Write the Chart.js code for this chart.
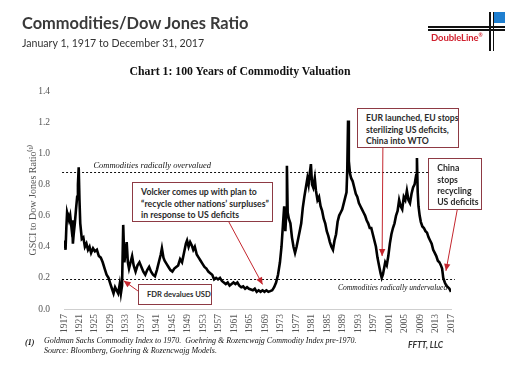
<!DOCTYPE html>
<html><head><meta charset="utf-8">
<script src="https://cdn.jsdelivr.net/npm/chart.js@4/dist/chart.umd.min.js"></script>
<style>
html,body{margin:0;padding:0;background:#fff;width:517px;height:368px;overflow:hidden;}
#wrap{position:relative;width:517px;height:368px;}
#c{position:absolute;left:0;top:0;width:517px;height:368px;}
.t{position:absolute;white-space:nowrap;}
#h1{left:22px;top:13px;font:bold 16.4px Lato;color:#3a3a3a;}
#h2{left:22px;top:37px;font:10.6px Lato;color:#333;}
#ct{left:0;width:480px;text-align:center;top:64px;font:bold 11.8px "Liberation Serif";color:#111;}
.lg{position:absolute;background:#111;}
#lgsq{position:absolute;left:494px;top:12px;width:11px;height:11px;background:#1f7fd0;}
#lgtx{left:431px;top:32px;font:bold 9.5px Lato;color:#d0202e;letter-spacing:-0.1px;}
.fn{font:italic 8px "Liberation Serif";color:#111;}
#ffft{left:408px;top:340px;font:bold italic 8.5px Lato;color:#333;}
.box{position:absolute;background:#fff;border:1.5px solid #8e3a44;box-sizing:border-box;font:bold 8.7px Lato;color:#2a2a2a;line-height:11.3px;white-space:nowrap;overflow:hidden;}
.dl{position:absolute;font:italic 7.8px "Liberation Serif";color:#111;white-space:nowrap;}
</style></head>
<body><div id="wrap">
<canvas id="c" width="517" height="368"></canvas>
<div class="t" id="h1">Commodities/Dow Jones Ratio</div>
<div class="t" id="h2">January 1, 1917 to December 31, 2017</div>
<div class="t" id="ct">Chart 1: 100 Years of Commodity Valuation</div>
<div class="lg" style="left:428px;top:26px;width:77px;height:1.5px"></div>
<div class="lg" style="left:428px;top:29px;width:77px;height:1.5px"></div>
<div class="lg" style="left:489px;top:12px;width:1.5px;height:39px"></div>
<div class="lg" style="left:492.5px;top:12px;width:1.5px;height:39px"></div>
<div id="lgsq"></div>
<div class="t" id="lgtx">DoubleLine<sup style="font-size:5px">®</sup></div>
<div class="t fn" style="left:25px;top:338px;font-weight:bold">(1)</div>
<div class="t fn" style="left:44px;top:336px">Goldman Sachs Commodity Index to 1970.&nbsp; Goehring &amp; Rozencwajg Commodity Index pre-1970.</div>
<div class="t fn" style="left:44px;top:346px">Source: Bloomberg, Goehring &amp; Rozencwajg Models.</div>
<div class="t" id="ffft">FFTT, LLC</div>
</div>
<script>
// ---- data ----
const years = [1917.0,1917.2,1917.4,1917.6,1917.8,1918.0,1918.3,1918.6,1918.9,1919.1,1919.3,1919.5,1919.8,1920.1,1920.4,1920.6,1920.8,1921.0,1921.2,1921.6,1922.0,1922.4,1922.8,1923.2,1923.6,1924.0,1924.5,1925.0,1925.5,1926.0,1926.5,1927.0,1927.5,1928.0,1928.5,1929.0,1929.4,1929.8,1930.2,1930.6,1931.0,1931.4,1931.7,1932.0,1932.3,1932.6,1932.9,1933.2,1933.5,1933.8,1934.2,1934.6,1935.0,1935.5,1936.0,1936.5,1937.0,1937.5,1938.0,1938.5,1939.0,1939.5,1940.0,1940.5,1941.0,1941.5,1942.0,1942.3,1942.7,1943.0,1943.5,1944.0,1944.5,1945.0,1945.5,1946.0,1946.5,1947.0,1947.5,1948.0,1948.5,1948.8,1949.2,1949.6,1950.0,1950.4,1950.8,1951.3,1951.8,1952.3,1952.8,1953.3,1953.8,1954.3,1954.8,1955.3,1955.8,1956.3,1956.8,1957.3,1957.8,1958.3,1958.8,1959.3,1959.8,1960.3,1960.8,1961.3,1961.8,1962.3,1962.8,1963.3,1963.8,1964.3,1964.8,1965.3,1965.8,1966.3,1966.8,1967.3,1967.8,1968.3,1968.8,1969.3,1969.8,1970.3,1970.8,1971.3,1971.8,1972.3,1972.8,1973.2,1973.6,1973.9,1974.2,1974.4,1974.6,1974.8,1975.1,1975.5,1975.9,1976.3,1976.7,1977.1,1977.5,1977.9,1978.3,1978.7,1979.1,1979.5,1979.9,1980.2,1980.5,1980.8,1981.1,1981.4,1981.8,1982.1,1982.5,1982.9,1983.3,1983.7,1984.1,1984.5,1984.9,1985.3,1985.7,1986.1,1986.5,1986.9,1987.3,1987.7,1988.1,1988.5,1988.9,1989.3,1989.7,1990.0,1990.2,1990.4,1990.6,1990.9,1991.2,1991.6,1992.0,1992.4,1992.8,1993.2,1993.6,1994.0,1994.4,1994.8,1995.2,1995.6,1996.0,1996.4,1996.8,1997.2,1997.6,1998.0,1998.4,1998.8,1999.1,1999.4,1999.7,2000.0,2000.4,2000.8,2001.2,2001.6,2002.0,2002.4,2002.8,2003.2,2003.6,2004.0,2004.4,2004.8,2005.2,2005.6,2006.0,2006.4,2006.8,2007.2,2007.6,2008.0,2008.2,2008.4,2008.6,2008.9,2009.2,2009.6,2010.0,2010.4,2010.8,2011.2,2011.6,2012.0,2012.4,2012.8,2013.2,2013.6,2014.0,2014.4,2014.7,2015.0,2015.4,2015.8,2016.2,2016.6,2017.0];
const ratio = [0.40,0.44,0.38,0.52,0.62,0.60,0.57,0.60,0.53,0.57,0.42,0.48,0.55,0.64,0.72,0.80,0.91,0.70,0.55,0.45,0.46,0.40,0.42,0.38,0.40,0.36,0.39,0.37,0.38,0.34,0.33,0.30,0.26,0.22,0.20,0.16,0.13,0.10,0.14,0.12,0.10,0.16,0.10,0.15,0.54,0.30,0.36,0.43,0.30,0.26,0.30,0.34,0.28,0.24,0.28,0.30,0.27,0.24,0.22,0.25,0.27,0.24,0.22,0.21,0.25,0.30,0.35,0.39,0.33,0.31,0.29,0.27,0.25,0.24,0.26,0.27,0.28,0.32,0.30,0.36,0.42,0.44,0.40,0.43,0.41,0.38,0.40,0.35,0.33,0.31,0.29,0.27,0.26,0.24,0.23,0.22,0.19,0.20,0.19,0.20,0.18,0.17,0.16,0.17,0.15,0.16,0.17,0.16,0.17,0.15,0.14,0.145,0.13,0.14,0.13,0.125,0.12,0.13,0.11,0.12,0.11,0.12,0.11,0.12,0.11,0.115,0.12,0.14,0.17,0.22,0.30,0.40,0.55,0.66,0.50,0.60,0.92,0.62,0.58,0.55,0.46,0.40,0.36,0.40,0.45,0.50,0.55,0.65,0.72,0.78,0.84,0.80,0.87,0.93,0.80,0.78,0.84,0.76,0.70,0.72,0.66,0.63,0.58,0.55,0.50,0.47,0.43,0.40,0.38,0.44,0.48,0.56,0.60,0.62,0.64,0.68,0.72,0.75,0.90,1.21,0.95,0.87,0.84,0.82,0.78,0.74,0.72,0.68,0.66,0.64,0.62,0.60,0.57,0.55,0.52,0.52,0.48,0.44,0.40,0.33,0.28,0.23,0.20,0.22,0.26,0.30,0.28,0.34,0.42,0.48,0.52,0.55,0.60,0.63,0.70,0.66,0.64,0.72,0.70,0.76,0.70,0.68,0.74,0.78,0.80,0.86,0.97,0.75,0.66,0.60,0.56,0.53,0.52,0.50,0.49,0.46,0.44,0.42,0.38,0.36,0.34,0.31,0.30,0.28,0.26,0.20,0.17,0.15,0.14,0.13,0.11];
const xTickLabels = ['1917','1921','1925','1929','1933','1937','1941','1945','1949','1953','1957','1961','1965','1969','1973','1977','1981','1985','1989','1993','1997','2001','2005','2009','2013','2017'];
const yTickValues = [0.0,0.2,0.4,0.6,0.8,1.0,1.2,1.4];
const overvaluedLevel = 0.88;
const undervaluedLevel = 0.19;

// annotation boxes (data coordinates) and arrows
const notes = [
  {id:'volcker', lines:['Volcker comes up with plan to','\u201Crecycle other nations\u2019 surpluses\u201D','in response to US deficits'], x0:1934.6, x1:1971.0, y0:0.559, y1:0.816, pl:8, pt:3.5, fs:8.7,
   arrow:[1959.6,0.559,1968.3,0.158]},
  {id:'fdr', lines:['FDR devalues USD'], x0:1936.1, x1:1955.2, y0:0.026, y1:0.161, pl:8, pt:4.5, fs:7.6,
   arrow:[1936.1,0.116,1932.4,0.182]},
  {id:'eur', lines:['EUR launched, EU stops','sterilizing US deficits,','China into WTO'], x0:1992.7, x1:2019.1, y0:1.034, y1:1.291, pl:8, pt:3.5, fs:8.7,
   arrow:[1999.4,1.034,1999.2,0.34]},
  {id:'china', lines:['China','stops','recycling','US deficits'], x0:2011.1, x1:2025.0, y0:0.636, y1:0.970, pl:8, pt:3.5, fs:8.7,
   arrow:[2018.6,0.636,2015.7,0.245]}
];
const dashLabels = [
  {text:'Commodities radically overvalued', x:1924.6, y:overvaluedLevel, above:true, size:8.5},
  {text:'Commodities radically undervalued', x:1987.8, y:undervaluedLevel, above:false, size:7.6}
];

const wrap = document.getElementById('wrap');
const noteEls = notes.map(n=>{
  const d=document.createElement('div'); d.className='box';
  d.style.padding = n.pt+'px 0 0 '+n.pl+'px';
  d.style.fontSize = n.fs+'px';
  d.innerHTML = n.lines.join('<br>');
  wrap.appendChild(d); return d;
});
const dashEls = dashLabels.map(l=>{
  const d=document.createElement('div'); d.className='dl'; d.textContent=l.text; d.style.fontSize=l.size+'px';
  wrap.appendChild(d); return d;
});

function arrowHead(ctx,x0,y0,x1,y1){
  const a=Math.atan2(y1-y0,x1-x0), L=7, W=3.2;
  ctx.beginPath();
  ctx.moveTo(x1,y1);
  ctx.lineTo(x1-L*Math.cos(a)+W*Math.sin(a), y1-L*Math.sin(a)-W*Math.cos(a));
  ctx.lineTo(x1-L*Math.cos(a)-W*Math.sin(a), y1-L*Math.sin(a)+W*Math.cos(a));
  ctx.closePath(); ctx.fill();
}

const annot = {
  id:'annot',
  beforeDatasetsDraw(chart){
    const {ctx, scales:{x,y}} = chart;
    ctx.save();
    ctx.strokeStyle='#111'; ctx.lineWidth=1; ctx.setLineDash([2,2]);
    [overvaluedLevel, undervaluedLevel].forEach(v=>{
      const py=Math.round(y.getPixelForValue(v))+0.5;
      ctx.beginPath(); ctx.moveTo(x.getPixelForValue(1916.5),py); ctx.lineTo(x.getPixelForValue(2018),py); ctx.stroke();
    });
    ctx.restore();
  },
  afterDraw(chart){
    const {ctx, scales:{x,y}} = chart;
    ctx.save();
    ctx.strokeStyle='#c4262e'; ctx.fillStyle='#c4262e'; ctx.lineWidth=1;
    notes.forEach((n,i)=>{
      const L=x.getPixelForValue(n.x0), R=x.getPixelForValue(n.x1), T=y.getPixelForValue(n.y1), B=y.getPixelForValue(n.y0);
      const e=noteEls[i];
      e.style.left=L+'px'; e.style.top=T+'px'; e.style.width=(R-L)+'px'; e.style.height=(B-T)+'px';
      const a=n.arrow;
      const ax0=x.getPixelForValue(a[0]), ay0=y.getPixelForValue(a[1]), ax1=x.getPixelForValue(a[2]), ay1=y.getPixelForValue(a[3]);
      ctx.beginPath(); ctx.moveTo(ax0,ay0); ctx.lineTo(ax1,ay1); ctx.stroke();
      arrowHead(ctx,ax0,ay0,ax1,ay1);
    });
    ctx.restore();
    dashLabels.forEach((l,i)=>{
      const e=dashEls[i], py=y.getPixelForValue(l.y);
      e.style.left=x.getPixelForValue(l.x)+'px';
      e.style.top=(l.above? py-12 : py+4)+'px';
    });
  }
};

new Chart(document.getElementById('c'), {
  type:'line',
  data:{datasets:[{data: years.map((yr,i)=>({x:yr,y:ratio[i]})), borderColor:'#000', borderWidth:2.6, pointRadius:0, tension:0, fill:false}]},
  options:{
    responsive:false, animation:false, events:[],
    layout:{padding:{left:0,right:66,top:91,bottom:0}},
    plugins:{legend:{display:false}, tooltip:{enabled:false}},
    scales:{
      x:{type:'linear', min:1917, max:2017,
        afterBuildTicks:s=>{s.ticks=xTickLabels.map(v=>({value:+v}));},
        afterFit:s=>{s.height=59;},
        grid:{display:false, drawTicks:false},
        border:{display:true,color:'#cfcfcf',width:1},
        ticks:{autoSkip:false, maxRotation:90, minRotation:90, padding:5, color:'#555', font:{family:'Liberation Serif', size:9.5}, callback:v=>String(v)}
      },
      y:{type:'linear', min:0, max:1.4,
        afterBuildTicks:s=>{s.ticks=yTickValues.map(v=>({value:v}));},
        afterFit:s=>{s.width=64;},
        grid:{display:false, drawTicks:false},
        border:{display:false},
        ticks:{padding:14, color:'#555', font:{family:'Liberation Serif', size:9.5}, callback:v=>Number(v).toFixed(1)},
        title:{display:true, text:'GSCI to Dow Jones Ratio\u207D\u00B9\u207E', color:'#555', font:{family:'Liberation Serif', size:10}, padding:{top:27,bottom:0}}
      }
    }
  },
  plugins:[annot]
});
</script>
</body></html>
